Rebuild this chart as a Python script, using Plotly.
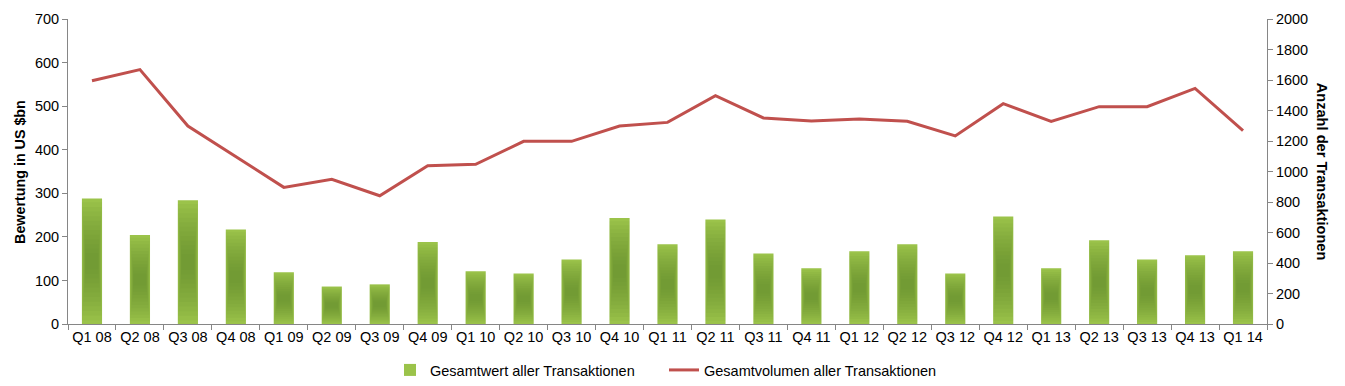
import plotly.graph_objects as go

quarters = ["Q1 08", "Q2 08", "Q3 08", "Q4 08", "Q1 09", "Q2 09", "Q3 09", "Q4 09",
            "Q1 10", "Q2 10", "Q3 10", "Q4 10", "Q1 11", "Q2 11", "Q3 11", "Q4 11",
            "Q1 12", "Q2 12", "Q3 12", "Q4 12", "Q1 13", "Q2 13", "Q3 13", "Q4 13", "Q1 14"]
gesamtwert = [288, 204, 284, 217, 119, 86, 91, 188, 121, 116, 148, 243, 183, 240, 162, 128,
              167, 183, 116, 247, 128, 192, 148, 158, 167]
gesamtvolumen = [1595, 1668, 1298, 1097, 896, 949, 841, 1038, 1047, 1198, 1198, 1298, 1322,
                 1497, 1351, 1331, 1345, 1329, 1233, 1445, 1329, 1425, 1425, 1545, 1268]

FONT = "Liberation Sans, Arial, sans-serif"
BAR_W = 0.42

fig = go.Figure()

# base bar (legend entry)
fig.add_trace(go.Bar(
    x=quarters, y=gesamtwert, name="Gesamtwert aller Transaktionen",
    marker=dict(color="#9BC34A", line=dict(width=0)), width=BAR_W, yaxis="y",
    legend="legend",
))
# many faint shading layers to mimic the gradient (darker toward the middle)
n_layers = 12
for k in range(n_layers):
    frac = 0.03 + k * 0.037
    wf = 1.0 - k * 0.035
    fig.add_trace(go.Bar(
        x=quarters, y=[v * (1 - 2 * frac) for v in gesamtwert],
        base=[v * frac for v in gesamtwert],
        marker=dict(color="#5F8A2C", line=dict(width=0)), opacity=0.075,
        width=BAR_W * wf, showlegend=False, hoverinfo="skip", yaxis="y",
    ))

fig.add_trace(go.Scatter(
    x=quarters, y=gesamtvolumen, name="Gesamtvolumen aller Transaktionen",
    mode="lines", line=dict(color="#C0504D", width=3), yaxis="y2",
    legend="legend2",
))

axis_common = dict(
    showline=True, linecolor="#868686", linewidth=1, ticks="outside",
    tickcolor="#868686", ticklen=5, showgrid=False, zeroline=False,
    tickfont=dict(family=FONT, size=14.5, color="#000000"), automargin=False,
    tickangle=0,
)

legend_common = dict(
    orientation="h", xref="container", xanchor="left",
    y=1 - 370 / 386, yref="container", yanchor="middle",
    font=dict(family=FONT, size=14.5), bgcolor="rgba(0,0,0,0)",
)

fig.update_layout(
    width=1345, height=386,
    margin=dict(l=68, r=78, t=19, b=62),
    paper_bgcolor="white", plot_bgcolor="white",
    barmode="overlay",
    font=dict(family=FONT, size=14.5, color="#000000"),
    xaxis=dict(**axis_common, type="category", tickson="boundaries",
               range=[-0.5, 24.5]),
    yaxis=dict(**axis_common, range=[0, 700], dtick=100),
    yaxis2=dict(**axis_common, range=[0, 2000], dtick=200, overlaying="y",
                side="right"),
    legend=dict(**legend_common, x=390 / 1345),
    legend2=dict(**legend_common, x=664 / 1345),
    showlegend=True,
    annotations=[
        dict(text="<b>Bewertung in US $bn</b>", textangle=-90, xref="paper", yref="paper",
             x=-0.0405, y=0.5, xanchor="center", yanchor="middle", showarrow=False,
             font=dict(family=FONT, size=14.3)),
        dict(text="<b>Anzahl der Transaktionen</b>", textangle=90, xref="paper", yref="paper",
             x=1.0465, y=0.5, xanchor="center", yanchor="middle", showarrow=False,
             font=dict(family=FONT, size=14.6)),
    ],
)

fig.write_html("out.html", config={"displayModeBar": False},
               post_script="document.body.style.margin='0';document.body.style.overflow='hidden';")
